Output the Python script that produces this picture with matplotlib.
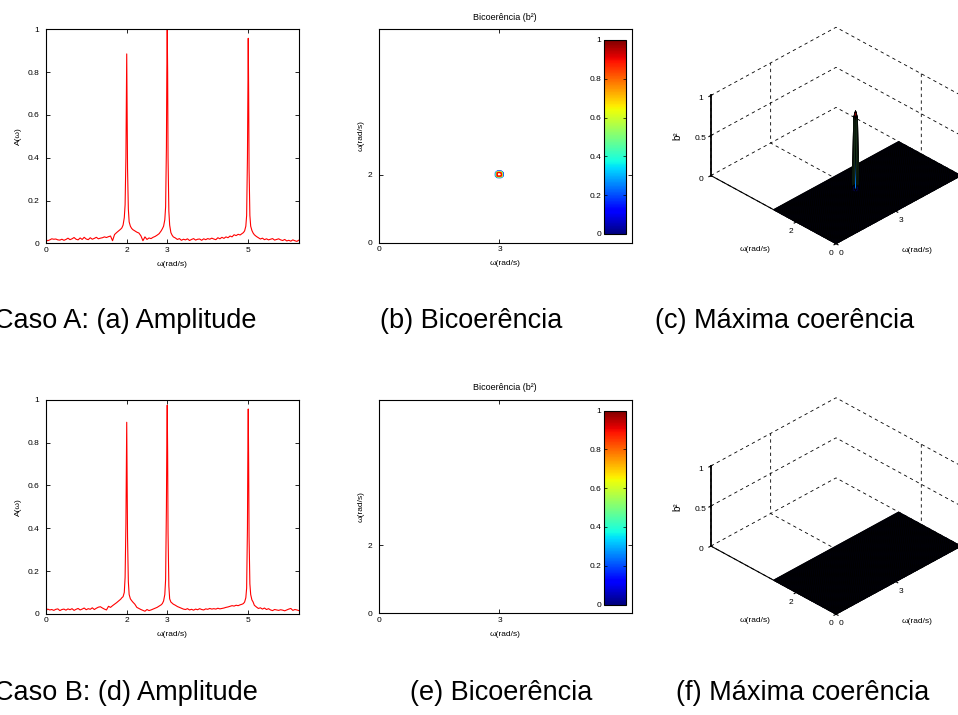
import numpy as np
import matplotlib
matplotlib.use("Agg")
import matplotlib.pyplot as plt
from matplotlib import cm, colors

plt.rcParams['font.family'] = ['Liberation Sans', 'DejaVu Sans']

# ---------------------------------------------------------------- data
# frequency samples of the amplitude spectra (rad/s)
freq = [
    0.00, 0.05, 0.10, 0.15, 0.20, 0.25, 0.30, 0.35, 0.40, 0.45,
    0.50, 0.55, 0.60, 0.65, 0.70, 0.75, 0.80, 0.85, 0.90, 0.95,
    1.00, 1.05, 1.10, 1.15, 1.20, 1.25, 1.30, 1.35, 1.40, 1.45,
    1.50, 1.55, 1.60, 1.65, 1.70, 1.75, 1.80, 1.85,
    1.88, 1.91, 1.94, 1.96, 1.98, 1.99, 2.00, 2.01, 2.02, 2.04, 2.06, 2.09, 2.12,
    2.15, 2.20, 2.25, 2.30, 2.35, 2.40, 2.45, 2.50, 2.55, 2.60,
    2.65, 2.70, 2.75, 2.80, 2.85,
    2.88, 2.91, 2.94, 2.96, 2.98, 2.99, 3.00, 3.01, 3.02, 3.04, 3.06, 3.09, 3.12,
    3.15, 3.20, 3.25, 3.30, 3.35, 3.40, 3.45, 3.50, 3.55, 3.60,
    3.65, 3.70, 3.75, 3.80, 3.85, 3.90, 3.95, 4.00, 4.05, 4.10,
    4.15, 4.20, 4.25, 4.30, 4.35, 4.40, 4.45, 4.50, 4.55, 4.60,
    4.65, 4.70, 4.75, 4.80, 4.85,
    4.88, 4.91, 4.94, 4.96, 4.98, 4.99, 5.00, 5.01, 5.02, 5.04, 5.06, 5.09, 5.12,
    5.15, 5.20, 5.25, 5.30, 5.35, 5.40, 5.45, 5.50, 5.55, 5.60,
    5.65, 5.70, 5.75, 5.80, 5.85, 5.90, 5.95, 6.00, 6.05, 6.10,
    6.15, 6.20, 6.25, 6.28,
]

# Caso A amplitude spectrum
amp_a = [
    0.018, 0.012, 0.016, 0.021, 0.019, 0.020, 0.016, 0.015, 0.019, 0.014,
    0.018, 0.024, 0.017, 0.021, 0.027, 0.019, 0.016, 0.025, 0.018, 0.028,
    0.020, 0.017, 0.026, 0.019, 0.023, 0.028, 0.021, 0.024, 0.026, 0.030,
    0.027, 0.031, 0.034, 0.012, 0.041, 0.050, 0.058, 0.066,
    0.072, 0.085, 0.120, 0.180, 0.400, 0.650, 0.885, 0.620, 0.350, 0.160, 0.100, 0.080, 0.070,
    0.064, 0.058, 0.052, 0.048, 0.035, 0.012, 0.030, 0.018, 0.025, 0.022,
    0.028, 0.032, 0.038, 0.045, 0.058,
    0.068, 0.080, 0.110, 0.170, 0.450, 0.800, 1.000, 0.800, 0.400, 0.150, 0.085, 0.050, 0.038,
    0.030, 0.025, 0.018, 0.022, 0.014, 0.019, 0.016, 0.021, 0.013, 0.018,
    0.022, 0.015, 0.019, 0.020, 0.014, 0.021, 0.017, 0.022, 0.019, 0.024,
    0.020, 0.017, 0.026, 0.021, 0.028, 0.023, 0.030, 0.026, 0.034, 0.030,
    0.040, 0.036, 0.042, 0.039, 0.046,
    0.050, 0.058, 0.080, 0.130, 0.400, 0.720, 0.958, 0.700, 0.350, 0.130, 0.080, 0.060, 0.048,
    0.040, 0.032, 0.026, 0.020, 0.024, 0.017, 0.021, 0.016, 0.019, 0.022,
    0.015, 0.018, 0.021, 0.016, 0.013, 0.018, 0.011, 0.014, 0.010, 0.016,
    0.012, 0.009, 0.015, 0.013,
]

# Caso B amplitude spectrum
amp_b = [
    0.014, 0.022, 0.018, 0.020, 0.016, 0.021, 0.023, 0.015, 0.020, 0.022,
    0.017, 0.023, 0.019, 0.024, 0.016, 0.021, 0.025, 0.018, 0.022, 0.027,
    0.019, 0.024, 0.021, 0.028, 0.020, 0.026, 0.031, 0.033, 0.027, 0.022,
    0.018, 0.035, 0.030, 0.038, 0.045, 0.052, 0.060, 0.068,
    0.075, 0.080, 0.100, 0.170, 0.420, 0.680, 0.895, 0.640, 0.360, 0.150, 0.090, 0.070, 0.062,
    0.055, 0.045, 0.030, 0.025, 0.020, 0.016, 0.012, 0.020, 0.015, 0.018,
    0.022, 0.026, 0.030, 0.036, 0.042,
    0.048, 0.060, 0.090, 0.160, 0.500, 0.800, 0.975, 0.750, 0.380, 0.130, 0.070, 0.055, 0.050,
    0.045, 0.040, 0.034, 0.030, 0.026, 0.022, 0.020, 0.024, 0.018, 0.021,
    0.017, 0.022, 0.019, 0.024, 0.020, 0.018, 0.023, 0.021, 0.025, 0.022,
    0.024, 0.022, 0.026, 0.023, 0.025, 0.027, 0.030, 0.032, 0.035, 0.038,
    0.036, 0.040, 0.038, 0.042, 0.045,
    0.048, 0.055, 0.075, 0.120, 0.400, 0.750, 0.957, 0.700, 0.360, 0.140, 0.090, 0.065, 0.055,
    0.040, 0.032, 0.025, 0.028, 0.022, 0.027, 0.020, 0.024, 0.018, 0.015,
    0.020, 0.018, 0.016, 0.019, 0.017, 0.014, 0.018, 0.022, 0.025, 0.016,
    0.020, 0.018, 0.015, 0.017,
]

amp_xticks = [0, 2, 3, 5]
amp_yticks = [0, 0.2, 0.4, 0.6, 0.8, 1.0]
amp_ytick_labels = ['0', '0.2', '0.4', '0.6', '0.8', '1']

# bicoherence grid: w1 in [0, 2*pi], w2 in [0, pi]
bic_step = np.pi / 64
w1 = np.arange(129) * bic_step
w2 = np.arange(65) * bic_step

# Caso A: single coupled peak at (w1, w2) = (3, 2)
peak_w1_a = 3.0
peak_w2_a = 2.0
peak_patch_a = [
    [0.00, 0.05, 0.08, 0.05, 0.00],
    [0.05, 0.90, 0.95, 0.88, 0.05],
    [0.08, 0.94, 0.98, 0.93, 0.08],
    [0.05, 0.89, 0.94, 0.86, 0.05],
    [0.00, 0.05, 0.08, 0.05, 0.00],
]

bic_levels = [0.1, 0.2, 0.3, 0.4, 0.5, 0.6, 0.7, 0.8, 0.9]
cbar_ticks = [0, 0.2, 0.4, 0.6, 0.8, 1.0]
cbar_labels = ['0', '0.2', '0.4', '0.6', '0.8', '1']

bic_a = np.zeros((len(w2), len(w1)))
iy = int(np.argmin(np.abs(w2 - peak_w2_a)))
ix = int(np.argmin(np.abs(w1 - peak_w1_a)))
bic_a[iy - 2:iy + 3, ix - 2:ix + 3] = np.array(peak_patch_a)
# Caso B: no quadratic coupling
bic_b = np.zeros((len(w2), len(w1)))

# ---------------------------------------------------------------- figure
W, H = 958, 715
fig = plt.figure(figsize=(W / 100, H / 100), dpi=100)


def rect(left, top, right, bottom):
    return [left / W, 1 - bottom / H, (right - left) / W, (bottom - top) / H]


def px(x, y):
    return x / W, 1 - y / H


def style_2d(ax):
    ax.tick_params(direction='in', top=True, right=True, length=3, width=0.6,
                   labelsize=6, pad=2.5, colors='black')
    ax.tick_params(axis='y', pad=4.5)
    for s in ax.spines.values():
        s.set_linewidth(0.8)


def amplitude_panel(box, amp):
    ax = fig.add_axes(rect(*box))
    ax.plot(freq, amp, color='red', lw=0.8)
    ax.set_xlim(0, 6.26)
    ax.set_ylim(0, 1)
    ax.set_xticks(amp_xticks)
    ax.set_xticklabels([str(t) for t in amp_xticks])
    ax.set_yticks(amp_yticks)
    ax.set_yticklabels(amp_ytick_labels)
    style_2d(ax)
    ax.set_xlabel('ω(rad/s)', fontsize=6, labelpad=5)
    ax.set_ylabel('A(ω)', fontsize=6, labelpad=4)


def bicoherence_panel(box, cbar_box, bic):
    ax = fig.add_axes(rect(*box))
    if bic.max() > bic_levels[0]:
        ax.contour(w1, w2, bic, levels=bic_levels, cmap='jet', vmin=0, vmax=1,
                   linewidths=0.9)
    ax.set_xlim(0, 2 * np.pi)
    ax.set_ylim(0, 2 * np.pi)
    ax.set_xticks([0, 3])
    ax.set_xticklabels(['0', '3'])
    ax.set_yticks([0, 2])
    ax.set_yticklabels(['0', '2'])
    style_2d(ax)
    ax.set_xlabel('ω(rad/s)', fontsize=6, labelpad=5)
    ax.set_ylabel('ω(rad/s)', fontsize=6, labelpad=2)
    ax.set_title('Bicoerência (b²)', fontsize=6.5, pad=7)

    cax = fig.add_axes(rect(*cbar_box))
    sm = cm.ScalarMappable(norm=colors.Normalize(0, 1), cmap='jet')
    cb = fig.colorbar(sm, cax=cax)
    cb.set_ticks(cbar_ticks, labels=cbar_labels)
    cax.yaxis.set_ticks_position('both')
    cax.tick_params(direction='in', length=2.5, width=0.5, labelsize=6,
                    labelleft=True, labelright=False, pad=2)
    cb.outline.set_linewidth(0.8)


def surface_panel(box, bic, dy):
    ax = fig.add_axes(rect(*box), projection='3d')
    ax.set_facecolor((1, 1, 1, 0))
    ax.set_proj_type('ortho')
    ax.view_init(elev=33, azim=-135)
    ax.set_box_aspect((1, 1, 0.54))
    X, Y = np.meshgrid(w1, w2)
    ax.plot_surface(X, Y, bic, cmap='jet', vmin=0, vmax=1, edgecolor='black',
                    linewidth=0.6, rstride=1, cstride=1, shade=False,
                    antialiased=True)
    ax.set_xlim(0, 2 * np.pi)
    ax.set_ylim(0, 2 * np.pi)
    ax.set_zlim(0, 1)
    ax.set_xticks([0, 3])
    ax.set_xticklabels(['0', '3'])
    ax.set_yticks([0, 2])
    ax.set_yticklabels(['0', '2'])
    ax.set_zticks([0, 0.5, 1])
    ax.set_zticklabels(['0', '0.5', '1'])
    for a in (ax.xaxis, ax.yaxis, ax.zaxis):
        a.set_pane_color((1, 1, 1, 0))
        a.pane.set_edgecolor((1, 1, 1, 0))
        a.line.set_color('black')
        a.line.set_linewidth(0.8)
        a._axinfo['grid'].update(color='black', linewidth=0.6,
                                 linestyle=(0, (4, 4)))
        a.set_tick_params(pad=-4)
    ax.zaxis.line.set_linewidth(1.3)
    ax.tick_params(labelsize=6)
    # axis titles placed beside the projected axes
    fig.text(*px(917, 251 + dy), 'ω(rad/s)', fontsize=6, ha='center', va='center')
    fig.text(*px(755, 250 + dy), 'ω(rad/s)', fontsize=6, ha='center', va='center')
    fig.text(*px(677, 136 + dy), 'b²', fontsize=7, ha='center', va='center',
             rotation=90)


top_row = 0.0
bot_row = 370.5

amplitude_panel((45.7, 29.3 + top_row, 299.3, 243.3 + top_row), amp_a)
amplitude_panel((45.7, 29.3 + bot_row, 299.3, 243.3 + bot_row), amp_b)

bicoherence_panel((378.7, 29.3 + top_row, 631.7, 242.7 + top_row),
                  (604.3, 40 + top_row, 626, 234 + top_row), bic_a)
bicoherence_panel((378.7, 29.3 + bot_row, 631.7, 242.7 + bot_row),
                  (604.3, 40 + bot_row, 626, 234 + bot_row), bic_b)

surface_panel((702.5, 9 + top_row, 962.5, 269 + top_row), bic_a, top_row)
surface_panel((702.5, 9 + bot_row, 962.5, 269 + bot_row), bic_b, bot_row)

cap_kw = dict(fontsize=19.5, va='baseline', ha='left')
fig.text(-6 / W, 1 - 328 / H, 'Caso A: (a) Amplitude', **cap_kw)
fig.text(380 / W, 1 - 328 / H, '(b) Bicoerência', **cap_kw)
fig.text(655 / W, 1 - 328 / H, '(c) Máxima coerência', **cap_kw)
fig.text(-6 / W, 1 - 700 / H, 'Caso B: (d) Amplitude', **cap_kw)
fig.text(410 / W, 1 - 700 / H, '(e) Bicoerência', **cap_kw)
fig.text(676 / W, 1 - 700 / H, '(f) Máxima coerência', **cap_kw)

fig.savefig('out.png', dpi=100)
